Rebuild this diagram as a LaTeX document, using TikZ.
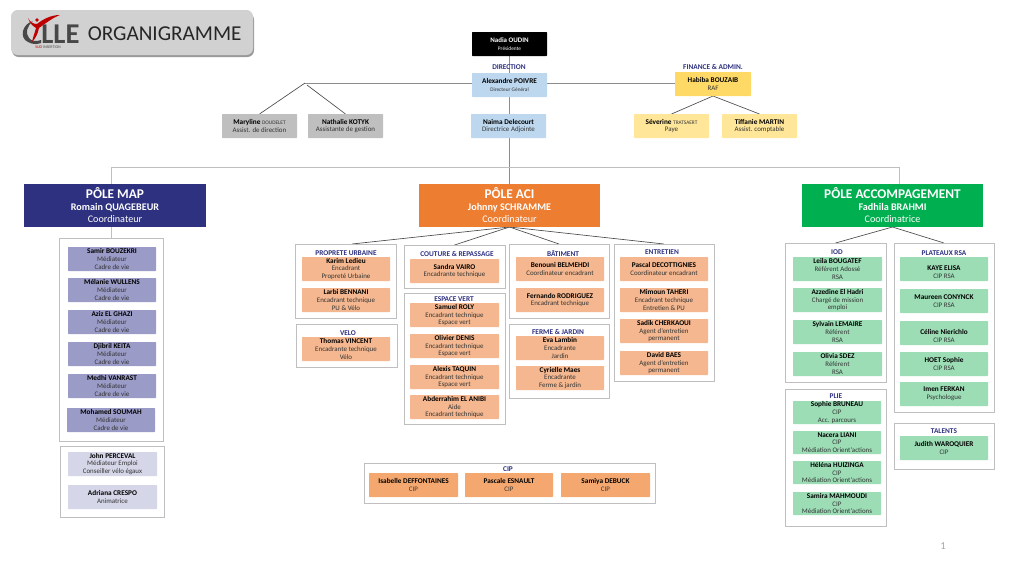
\documentclass[tikz,border=0pt]{standalone}
\usepackage{fontspec}
\setmainfont{Carlito}
\usetikzlibrary{backgrounds}
\definecolor{lab}{HTML}{2E3180}
\definecolor{mapc}{HTML}{9A9BC6}
\definecolor{mapl}{HTML}{D5D6E8}
\definecolor{orc}{HTML}{F4B78F}
\definecolor{cipc}{HTML}{F4A86F}
\definecolor{grc}{HTML}{9CDDB6}
\definecolor{blu}{HTML}{BDD7EE}
\definecolor{yel}{HTML}{FFD966}
\definecolor{yell}{HTML}{FFE699}
\definecolor{panelline}{HTML}{BFBFBF}
\definecolor{polea}{HTML}{ED7D31}
\definecolor{poleg}{HTML}{00B050}
\tikzset{
  box/.style={draw=none,inner sep=0pt,outer sep=0pt,align=center,font=\fontsize{5.2}{5.7}\selectfont,text=black!80},
  card/.style={box,rounded corners=0.5pt},
  panel/.style={draw=panelline,line width=0.6pt,fill=white,inner sep=0pt,outer sep=0pt},
  pole/.style={box,text=white,font=\fontsize{7.6}{9}\selectfont},
  sect/.style={inner sep=0pt,text=lab,font=\fontsize{5.5}{6}\selectfont\bfseries},
  lgrey/.style={draw=black!45,line width=0.5pt},
  ldark/.style={draw=black!70,line width=0.5pt},
  lthick/.style={draw=panelline,line width=0.7pt},
}
\newcommand\bx[7]{%
  \pgfmathsetmacro\bxw{(#5-#3)*0.75}%
  \pgfmathsetmacro\bxh{(#6-#4)*0.75}%
  \node[#2,minimum width=\bxw pt,minimum height=\bxh pt] (#1) at ({(#3+#5)/2},{(#4+#6)/2}) {#7};}
\newcommand\nm[1]{{\fontsize{5.45}{5.7}\selectfont\bfseries\color{black}#1}}
\newcommand\sm[1]{{\fontsize{4}{5}\selectfont #1}}
\begin{document}
\begin{tikzpicture}[x=0.75pt,y=-0.75pt]
\useasboundingbox (0,0) rectangle (1024,576);
% title
\fill[black!40,rounded corners=5pt] (12,13) rectangle (254,57);
\bx{title}{box,fill=black!18,rounded corners=5pt}{11}{10}{253}{55}{}
\fill[black!72] (33,21) .. controls (22,24) and (19,38) .. (28,42) .. controls (33,45) and (38,44) .. (41,43) -- (41,40) .. controls (36,42) and (31,41) .. (29,38) .. controls (25,33) and (27,26) .. (33,21) -- cycle;
\fill[red!75!black] (28,18) .. controls (30,24) and (33,26) .. (36,28) .. controls (35,32) and (33,37) .. (32,42) .. controls (36,38) and (38,33) .. (39,28) .. controls (46,23) and (54,17) .. (60,15) .. controls (50,15) and (42,20) .. (37,24) .. controls (33,24) and (30,22) .. (28,18) -- cycle;
\fill[red!75!black] (37,20) circle (1.8);
\node[inner sep=0pt,anchor=base west,text=black!72,font=\fontsize{21.5}{21.5}\selectfont\bfseries,text depth=0pt,text height=10pt] (lle) at (41,43) {LLE};
\node[inner sep=0pt,anchor=west,font=\fontsize{3}{3}\selectfont] (sud) at (35,47.5) {\textcolor{red!75!black}{SUD} \textcolor{black!70}{INSERTION}};
\node[inner sep=0pt,anchor=west,text=black!85,font=\fontsize{15.9}{18}\selectfont] (ttxt) at (87.5,33.5) {ORGANIGRAMME};
% direction
\bx{nadia}{card,fill=black,text=white}{472}{32}{547}{56}{\textbf{Nadia OUDIN}\\[0.3pt]\sm{Présidente}}
\bx{alex}{card,fill=blu}{472}{73}{547}{97}{\nm{Alexandre POIVRE}\\[0.3pt]\sm{Directeur Général}}
\bx{naima}{card,fill=blu}{471}{114}{546}{138}{\nm{Naima Delecourt}\\Directrice Adjointe}
\bx{hab}{card,fill=yel}{675}{72}{751}{96}{\nm{Habiba BOUZAIB}\\RAF}
\bx{sev}{card,fill=yell}{634}{114}{709}{138}{\nm{Séverine} \sm{TRATSAERT}\\Paye}
\bx{tif}{card,fill=yell}{722}{114}{797}{138}{\nm{Tiffanie MARTIN}\\Assist. comptable}
\bx{mar}{card,fill=black!25}{222}{114}{297}{138}{\nm{Maryline} \sm{DOUDELET}\\Assist. de direction}
\bx{nat}{card,fill=black!25}{308}{114}{383}{138}{\nm{Nathalie KOTYK}\\Assistante de gestion}
% poles
\bx{map}{pole,fill=lab}{24}{184}{206}{227}{{\fontsize{10}{11}\selectfont\bfseries PÔLE MAP}\\{\bfseries Romain QUAGEBEUR}\\Coordinateur}
\bx{aci}{pole,fill=polea}{419}{184}{600}{227}{{\fontsize{10}{11}\selectfont\bfseries PÔLE ACI}\\{\bfseries Johnny SCHRAMME}\\Coordinateur}
\bx{acc}{pole,fill=poleg}{802}{184}{983}{227}{{\fontsize{10}{11}\selectfont\bfseries PÔLE ACCOMPAGEMENT}\\{\bfseries Fadhila BRAHMI}\\Coordinatrice}
% MAP panels
\bx{pmap}{panel}{59}{238}{163}{441}{}
\bx{m1}{card,fill=mapc}{68}{247}{156}{271}{\nm{Samir BOUZEKRI}\\Médiateur\\Cadre de vie}
\bx{m2}{card,fill=mapc}{68}{278}{156}{302}{\nm{Mélanie WULLENS}\\Médiateur\\Cadre de vie}
\bx{m3}{card,fill=mapc}{68}{310}{156}{334}{\nm{Aziz EL GHAZI}\\Médiateur\\Cadre de vie}
\bx{m4}{card,fill=mapc}{68}{342}{156}{366}{\nm{Djibril KEITA}\\Médiateur\\Cadre de vie}
\bx{m5}{card,fill=mapc}{68}{374}{156}{398}{\nm{Medhi VANRAST}\\Médiateur\\Cadre de vie}
\bx{m6}{card,fill=mapc}{67}{408}{155}{432}{\nm{Mohamed SOUMAH}\\Médiateur\\Cadre de vie}
\bx{pmap2}{panel}{60}{446}{164}{517}{}
\bx{m7}{card,fill=mapl}{68}{452}{157}{476}{\nm{John PERCEVAL}\\Médiateur Emploi\\Conseiller vélo égaux}
\bx{m8}{card,fill=mapl}{68}{485}{157}{509}{\nm{Adriana CRESPO}\\Animatrice}
% ACI panels
\bx{pprop}{panel}{295}{244}{396}{318}{}
\node[sect] (lprop) at (346,253) {PROPRETE URBAINE};
\bx{a1}{card,fill=orc}{302}{257}{390}{281}{\nm{Karim Ledieu}\\Encadrant\\Propreté Urbaine}
\bx{a2}{card,fill=orc}{302}{288}{390}{312}{\nm{Larbi BENNANI}\\Encadrant technique\\PU \& Vélo}
\bx{pvel}{panel}{296}{324}{397}{367}{}
\node[sect] (lvel) at (348,333) {VELO};
\bx{a3}{card,fill=orc}{302}{337}{390}{361}{\nm{Thomas VINCENT}\\Encadrante technique\\Vélo}
\bx{pcou}{panel}{404}{245}{505}{288}{}
\node[sect] (lcou) at (457,254) {COUTURE \& REPASSAGE};
\bx{a4}{card,fill=orc}{410}{259}{499}{283}{\nm{Sandra VAIRO}\\Encadrante technique}
\bx{pesp}{panel}{404}{293}{505}{424}{}
\node[sect] (lesp) at (454,299.5) {ESPACE VERT};
\bx{a5}{card,fill=orc}{410}{303}{499}{327}{\nm{Samuel ROLY}\\Encadrant technique\\Espace vert}
\bx{a6}{card,fill=orc}{410}{334}{499}{358}{\nm{Olivier DENIS}\\Encadrant technique\\Espace vert}
\bx{a7}{card,fill=orc}{410}{365}{499}{389}{\nm{Alexis TAQUIN}\\Encadrant technique\\Espace vert}
\bx{a8}{card,fill=orc}{410}{395}{499}{419}{\nm{Abderrahim EL ANIBI}\\Aide\\Encadrant technique}
\bx{pbat}{panel}{509}{244}{609}{318}{}
\node[sect] (lbat) at (563,253.5) {BÂTIMENT};
\bx{a9}{card,fill=orc}{516}{257}{604}{281}{\nm{Benouni BELMEHDI}\\Coordinateur encadrant}
\bx{a10}{card,fill=orc}{516}{288}{604}{312}{\nm{Fernando RODRIGUEZ}\\Encadrant technique}
\bx{pfer}{panel}{509}{324}{609}{398}{}
\node[sect] (lfer) at (558,332) {FERME \& JARDIN};
\bx{a11}{card,fill=orc}{516}{336}{604}{360}{\nm{Eva Lambin}\\Encadrante\\Jardin}
\bx{a12}{card,fill=orc}{516}{366}{604}{390}{\nm{Cyrielle Maes}\\Encadrante\\Ferme \& jardin}
\bx{pent}{panel}{614}{244}{714}{381}{}
\node[sect] (lent) at (662,252) {ENTRETIEN};
\bx{a13}{card,fill=orc}{620}{257}{708}{281}{\nm{Pascal DECOTTIGNIES}\\Coordinateur encadrant}
\bx{a14}{card,fill=orc}{620}{288}{708}{312}{\nm{Mimoun TAHERI}\\Encadrant technique\\Entretien \& PU}
\bx{a15}{card,fill=orc}{620}{319}{708}{343}{\nm{Sadik CHERKAOUI}\\Agent d'entretien\\permanent}
\bx{a16}{card,fill=orc}{620}{351}{708}{375}{\nm{David BAES}\\Agent d'entretien\\permanent}
% CIP
\bx{pcip}{panel}{364}{463}{655}{503}{}
\node[sect] (lcip) at (508,469.5) {CIP};
\bx{c1}{card,fill=cipc}{369}{473}{458}{497}{\nm{Isabelle DEFFONTAINES}\\CIP}
\bx{c2}{card,fill=cipc}{465}{473}{553}{497}{\nm{Pascale ESNAULT}\\CIP}
\bx{c3}{card,fill=cipc}{561}{473}{650}{497}{\nm{Samiya DEBUCK}\\CIP}
% ACC panels
\bx{piod}{panel}{785}{243}{886}{382}{}
\node[sect] (liod) at (837,252) {IOD};
\bx{g1}{card,fill=grc}{793}{257}{882}{281}{\nm{Leila BOUGATEF}\\Référent Adossé\\RSA}
\bx{g2}{card,fill=grc}{793}{288}{882}{312}{\nm{Azzedine El Hadri}\\Chargé de mission\\emploi}
\bx{g3}{card,fill=grc}{793}{320}{882}{344}{\nm{Sylvain LEMAIRE}\\Référent\\RSA}
\bx{g4}{card,fill=grc}{793}{352}{882}{376}{\nm{Olivia SDEZ}\\Référent\\RSA}
\bx{ppla}{panel}{894}{243}{994}{412}{}
\node[sect] (lpla) at (944,253) {PLATEAUX RSA};
\bx{g5}{card,fill=grc}{900}{257}{988}{281}{\rule{0pt}{8.5pt}\nm{KAYE ELISA}\\CIP RSA}
\bx{g6}{card,fill=grc}{900}{289}{988}{313}{\nm{Maureen CONYNCK}\\CIP RSA}
\bx{g7}{card,fill=grc}{900}{321}{988}{345}{\rule{0pt}{8.5pt}\nm{Céline Nierichlo}\\CIP RSA}
\bx{g8}{card,fill=grc}{900}{352}{988}{376}{\nm{HOET Sophie}\\CIP RSA}
\bx{g9}{card,fill=grc}{900}{382}{988}{406}{\nm{Imen FERKAN}\\Psychologue}
\bx{pplie}{panel}{785}{389}{886}{526}{}
\node[sect] (lplie) at (836,396) {PLIE};
\bx{g10}{card,fill=grc}{793}{401}{881}{424}{\nm{Sophie BRUNEAU}\\CIP\\Acc. parcours}
\bx{g11}{card,fill=grc}{793}{431}{881}{454}{\nm{Nacera LIANI}\\CIP\\Médiation Orient'actions}
\bx{g12}{card,fill=grc}{793}{461}{881}{484}{\nm{Héléna HUIZINGA}\\CIP\\Médiation Orient'actions}
\bx{g13}{card,fill=grc}{793}{492}{881}{515}{\nm{Samira MAHMOUDI}\\CIP\\Médiation Orient'actions}
\bx{ptal}{panel}{894}{423}{994}{469}{}
\node[sect] (ltal) at (944,431) {TALENTS};
\bx{g14}{card,fill=grc}{900}{436}{988}{460}{\nm{Judith WAROQUIER}\\CIP}
% labels
\node[sect] (ldir) at (509,67) {DIRECTION};
\node[sect] (lfin) at (713,67) {FINANCE \& ADMIN.};
\node[inner sep=0pt,text=black!35,font=\fontsize{8}{9}\selectfont] (pg) at (943,546) {1};
% connectors
\coordinate (sp) at (509,0);
\coordinate (hub) at (305,83);
\coordinate (hubb) at (307,85);
\coordinate (hl) at (111,167);
\coordinate (hr) at (899,167);
\coordinate (cprop) at (352,244);
\begin{scope}[on background layer]
\draw[lgrey] (nadia.south -| sp) -- (aci.north -| sp);
\draw[lgrey] (hub) -- (hub -| alex.west);
\draw[lgrey] (hub -| alex.east) -- (hub -| hab.west);
\draw[ldark] (hub) -- (mar.north);
\draw[ldark] (hubb) -- (nat.north);
\draw[ldark] (hab.south) -- (sev.north);
\draw[ldark] (hab.south) -- (tif.north);
\draw[lthick] (pmap.north) -- (hl) -- (hr) -- (hr |- acc.north);
\draw[ldark] (aci.south) -- (cprop);
\draw[ldark] (aci.south) -- (pcou.north);
\draw[ldark] (aci.south) -- (pbat.north);
\draw[ldark] (aci.south) -- (pent.north);
\draw[ldark] (acc.south) -- (piod.north);
\draw[ldark] (acc.south) -- (ppla.north);
\end{scope}
\end{tikzpicture}
\end{document}
